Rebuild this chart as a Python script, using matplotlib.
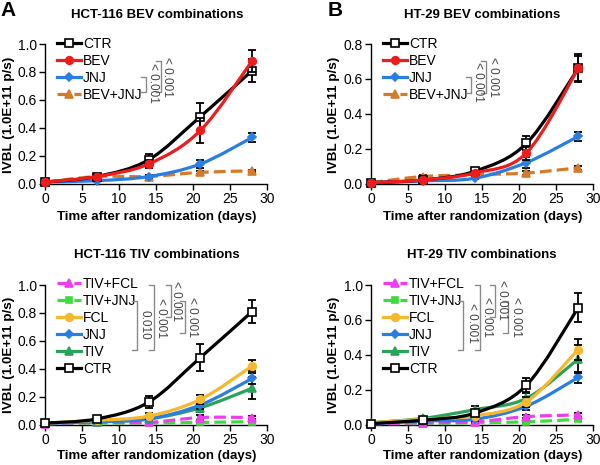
import matplotlib
matplotlib.use("Agg")
import matplotlib.pyplot as plt
from matplotlib.path import Path
from matplotlib.patches import PathPatch
from matplotlib.lines import Line2D
import numpy as np

plt.rcParams['font.family'] = ['Liberation Sans', 'DejaVu Sans']

days = [0, 7, 14, 21, 28]

# Panel A: HCT-116 BEV combinations
a_ctr = [0.01, 0.05, 0.17, 0.48, 0.81]
a_ctr_err = [0.005, 0.01, 0.045, 0.10, 0.08]
a_bev = [0.01, 0.05, 0.14, 0.38, 0.88]
a_bev_err = [0.005, 0.01, 0.03, 0.09, 0.08]
a_jnj = [0.01, 0.02, 0.05, 0.14, 0.33]
a_jnj_err = [0.003, 0.005, 0.01, 0.03, 0.03]
a_bevjnj = [0.01, 0.05, 0.05, 0.08, 0.09]
a_bevjnj_err = [0.003, 0.01, 0.01, 0.01, 0.01]

# Panel B: HT-29 BEV combinations
b_ctr = [0.005, 0.02, 0.07, 0.23, 0.66]
b_ctr_err = [0.003, 0.005, 0.01, 0.04, 0.08]
b_bev = [0.005, 0.02, 0.06, 0.175, 0.66]
b_bev_err = [0.003, 0.005, 0.01, 0.04, 0.07]
b_jnj = [0.005, 0.015, 0.03, 0.12, 0.27]
b_jnj_err = [0.003, 0.005, 0.005, 0.03, 0.025]
b_bevjnj = [0.005, 0.04, 0.05, 0.06, 0.09]
b_bevjnj_err = [0.003, 0.01, 0.01, 0.01, 0.01]

# Panel C: HCT-116 TIV combinations
c_tivfcl = [0.005, 0.015, 0.015, 0.05, 0.05]
c_tivfcl_err = [0.003, 0.005, 0.005, 0.02, 0.01]
c_tivjnj = [0.005, 0.01, 0.01, 0.015, 0.02]
c_tivjnj_err = [0.003, 0.005, 0.005, 0.005, 0.01]
c_fcl = [0.01, 0.03, 0.06, 0.18, 0.42]
c_fcl_err = [0.003, 0.01, 0.02, 0.03, 0.04]
c_jnj = [0.01, 0.02, 0.04, 0.14, 0.33]
c_jnj_err = [0.003, 0.005, 0.01, 0.03, 0.04]
c_tiv = [0.01, 0.02, 0.04, 0.12, 0.26]
c_tiv_err = [0.003, 0.005, 0.01, 0.03, 0.08]
c_ctr = [0.01, 0.04, 0.16, 0.48, 0.81]
c_ctr_err = [0.003, 0.01, 0.045, 0.10, 0.08]

# Panel D: HT-29 TIV combinations
d_tivfcl = [0.005, 0.01, 0.015, 0.045, 0.055]
d_tivfcl_err = [0.003, 0.005, 0.005, 0.01, 0.01]
d_tivjnj = [0.005, 0.005, 0.01, 0.015, 0.03]
d_tivjnj_err = [0.003, 0.003, 0.005, 0.005, 0.01]
d_fcl = [0.01, 0.03, 0.05, 0.13, 0.43]
d_fcl_err = [0.003, 0.01, 0.01, 0.03, 0.06]
d_jnj = [0.005, 0.02, 0.03, 0.105, 0.27]
d_jnj_err = [0.003, 0.005, 0.01, 0.02, 0.03]
d_tiv = [0.01, 0.035, 0.085, 0.15, 0.375]
d_tiv_err = [0.003, 0.01, 0.02, 0.03, 0.08]
d_ctr = [0.005, 0.025, 0.065, 0.225, 0.67]
d_ctr_err = [0.003, 0.01, 0.01, 0.04, 0.085]

titles = ["HCT-116 BEV combinations", "HT-29 BEV combinations",
          "HCT-116 TIV combinations", "HT-29 TIV combinations"]
xlabel = "Time after randomization (days)"
ylabel = "IVBL (1.0E+11 p/s)"
yticks_1 = [0.0, 0.2, 0.4, 0.6, 0.8, 1.0]
ytick_labels_1 = ["0.0", "0.2", "0.4", "0.6", "0.8", "1.0"]
yticks_b = [0.0, 0.2, 0.4, 0.6, 0.8]
ytick_labels_b = ["0.0", "0.2", "0.4", "0.6", "0.8"]
ytick_labels_d = ["0.0", "0.2", "0.4", "0.6", "1.0"]

STY = {
    'CTR': dict(color='black', ls='-', marker='s', mfc='white', ms=5.5),
    'BEV': dict(color='#ee1c1c', ls='-', marker='o', mfc='#ee1c1c', ms=5.5),
    'JNJ': dict(color='#2a7de1', ls='-', marker='D', mfc='#2a7de1', ms=4),
    'BEV+JNJ': dict(color='#d47a2a', ls='--', marker='^', mfc='#d47a2a', ms=5.5),
    'TIV+FCL': dict(color='#f03cf0', ls='--', marker='^', mfc='#f03cf0', ms=5.5),
    'TIV+JNJ': dict(color='#3ddc3d', ls='--', marker='s', mfc='#3ddc3d', ms=4.5),
    'FCL': dict(color='#f6b82c', ls='-', marker='o', mfc='#f6b82c', ms=5.5),
    'TIV': dict(color='#2aa35a', ls='-', marker='^', mfc='#2aa35a', ms=5.5),
}

W, H = 600, 465
fig = plt.figure(figsize=(6, 4.65), dpi=100)


def fx(x):
    return x / W


def fy(y):
    return 1 - y / H


def smooth_path(x, y):
    pts = np.column_stack([x, y]).astype(float)
    n = len(pts)
    verts = [pts[0]]
    codes = [Path.MOVETO]
    for i in range(n - 1):
        p0 = pts[i - 1] if i > 0 else pts[i]
        p1 = pts[i]
        p2 = pts[i + 1]
        p3 = pts[i + 2] if i + 2 < n else pts[i + 1]
        c1 = p1 + (p2 - p0) / 6.0
        c2 = p2 - (p3 - p1) / 6.0
        verts += [c1, c2, p2]
        codes += [Path.CURVE4] * 3
    return Path(verts, codes)


def draw_series(ax, name, y, err, z):
    s = STY[name]
    ax.errorbar(days, y, yerr=err, fmt='none', ecolor='black', elinewidth=1.3,
                capsize=2.8, capthick=1.3, zorder=z, clip_on=False)
    patch = PathPatch(smooth_path(days, y), fill=False, edgecolor=s['color'],
                      lw=2.3, ls=s['ls'], zorder=z + 0.1, clip_on=False)
    ax.add_patch(patch)
    ax.plot(days, y, ls='none', marker=s['marker'], ms=s['ms'], mfc=s['mfc'],
            mec=s['color'], mew=1.2, zorder=z + 0.2, clip_on=False)


def make_axes(rect, ymax, yticks, ylabels):
    ax = fig.add_axes(rect)
    ax.set_xlim(0, 30)
    ax.set_ylim(0, ymax)
    ax.set_xticks([0, 5, 10, 15, 20, 25, 30])
    ax.set_yticks(yticks)
    ax.set_yticklabels(ylabels)
    for sp in ['top', 'right']:
        ax.spines[sp].set_visible(False)
    for sp in ['left', 'bottom']:
        ax.spines[sp].set_linewidth(1.0)
    ax.tick_params(direction='out', length=4, width=1.0, labelsize=10, pad=2)
    return ax


def legend(ax, names, x_px, y_px):
    handles = []
    for n in names:
        s = STY[n]
        handles.append(Line2D([], [], color=s['color'], ls=s['ls'], lw=2.3,
                              marker=s['marker'], ms=s['ms'], mfc=s['mfc'],
                              mec=s['color'], mew=1.2))
    ax.legend(handles, names, loc='upper left', bbox_to_anchor=(fx(x_px), fy(y_px)),
              bbox_transform=fig.transFigure, frameon=False, fontsize=10,
              handlelength=1.75, handletextpad=0.12, labelspacing=0.22,
              borderaxespad=0, borderpad=0, numpoints=1)


def bracket(x, y0, y1, label, tx, ty, tick=5):
    col = '#8a8a8a'
    fig.add_artist(Line2D([fx(x - tick), fx(x), fx(x), fx(x - tick)],
                          [fy(y0), fy(y0), fy(y1), fy(y1)],
                          color=col, lw=1.0, transform=fig.transFigure))
    fig.text(fx(tx), fy(ty), label, rotation=270, ha='center', va='center',
             fontsize=8.5, color='#444444')


# layout (pixel coordinates)
left_l, right_l = 45, 267
left_r, right_r = 371, 593
top_u, bot_u = 44, 183.5
top_d, bot_d = 285, 424.5

rectA = [fx(left_l), fy(bot_u), fx(right_l - left_l), (bot_u - top_u) / H]
rectB = [fx(left_r), fy(bot_u), fx(right_r - left_r), (bot_u - top_u) / H]
rectC = [fx(left_l), fy(bot_d), fx(right_l - left_l), (bot_d - top_d) / H]
rectD = [fx(left_r), fy(bot_d), fx(right_r - left_r), (bot_d - top_d) / H]

axA = make_axes(rectA, 1.0, yticks_1, ytick_labels_1)
axB = make_axes(rectB, 0.8, yticks_b, ytick_labels_b)
axC = make_axes(rectC, 1.0, yticks_1, ytick_labels_1)
axD = make_axes(rectD, 0.8, yticks_b, ytick_labels_d)

# Panel A
draw_series(axA, 'BEV+JNJ', a_bevjnj, a_bevjnj_err, 3)
draw_series(axA, 'JNJ', a_jnj, a_jnj_err, 4)
draw_series(axA, 'CTR', a_ctr, a_ctr_err, 5)
draw_series(axA, 'BEV', a_bev, a_bev_err, 6)
legend(axA, ['CTR', 'BEV', 'JNJ', 'BEV+JNJ'], 57, 37)

# Panel B
draw_series(axB, 'BEV+JNJ', b_bevjnj, b_bevjnj_err, 3)
draw_series(axB, 'JNJ', b_jnj, b_jnj_err, 4)
draw_series(axB, 'CTR', b_ctr, b_ctr_err, 5)
draw_series(axB, 'BEV', b_bev, b_bev_err, 6)
legend(axB, ['CTR', 'BEV', 'JNJ', 'BEV+JNJ'], 383, 37)

# Panel C
draw_series(axC, 'TIV+JNJ', c_tivjnj, c_tivjnj_err, 3)
draw_series(axC, 'TIV+FCL', c_tivfcl, c_tivfcl_err, 4)
draw_series(axC, 'TIV', c_tiv, c_tiv_err, 5)
draw_series(axC, 'JNJ', c_jnj, c_jnj_err, 6)
draw_series(axC, 'FCL', c_fcl, c_fcl_err, 7)
draw_series(axC, 'CTR', c_ctr, c_ctr_err, 8)
legend(axC, ['TIV+FCL', 'TIV+JNJ', 'FCL', 'JNJ', 'TIV', 'CTR'], 57, 277)

# Panel D
draw_series(axD, 'TIV+JNJ', d_tivjnj, d_tivjnj_err, 3)
draw_series(axD, 'TIV+FCL', d_tivfcl, d_tivfcl_err, 4)
draw_series(axD, 'JNJ', d_jnj, d_jnj_err, 5)
draw_series(axD, 'TIV', d_tiv, d_tiv_err, 6)
draw_series(axD, 'FCL', d_fcl, d_fcl_err, 7)
draw_series(axD, 'CTR', d_ctr, d_ctr_err, 8)
legend(axD, ['TIV+FCL', 'TIV+JNJ', 'FCL', 'JNJ', 'TIV', 'CTR'], 383, 277)

# titles, labels
for ax, t, cx, ty in [(axA, titles[0], 157, 15), (axB, titles[1], 482, 15),
                      (axC, titles[2], 157, 255), (axD, titles[3], 482, 255)]:
    fig.text(fx(cx), fy(ty), t, ha='center', va='center', fontsize=9.5,
             fontweight='bold')
for cx, ty in [(157, 217), (483, 217), (157, 456), (483, 456)]:
    fig.text(fx(cx), fy(ty), xlabel, ha='center', va='center', fontsize=9.5,
             fontweight='bold')
for cx, cy in [(9, 115), (334, 115), (9, 355), (334, 355)]:
    fig.text(fx(cx), fy(cy), ylabel, ha='center', va='center', rotation=90,
             fontsize=9.7, fontweight='bold')
fig.text(fx(8), fy(10), 'A', ha='center', va='center', fontsize=15, fontweight='bold')
fig.text(fx(335), fy(10), 'B', ha='center', va='center', fontsize=15, fontweight='bold')

# significance brackets
bracket(146, 77, 92, '< 0.001', 153, 83)
bracket(161, 61, 92, '< 0.001', 167, 77)
bracket(471, 77, 93, '< 0.001', 478, 82)
bracket(486, 61, 93, '< 0.001', 493, 77)

bracket(137, 301, 350, '0.010', 145, 325)
bracket(154, 285, 350, '< 0.001', 161, 318)
bracket(171, 285, 317, '< 0.001', 176, 301)
bracket(185, 301, 333, '< 0.001', 192, 317)

bracket(463, 301, 350, '< 0.001', 472, 323)
bracket(480, 285, 350, '< 0.001', 487, 317)
bracket(495, 285, 317, '< 0.001', 502, 300)
bracket(508, 301, 333, '< 0.001', 516, 317)

fig.savefig('out.png', dpi=100)
